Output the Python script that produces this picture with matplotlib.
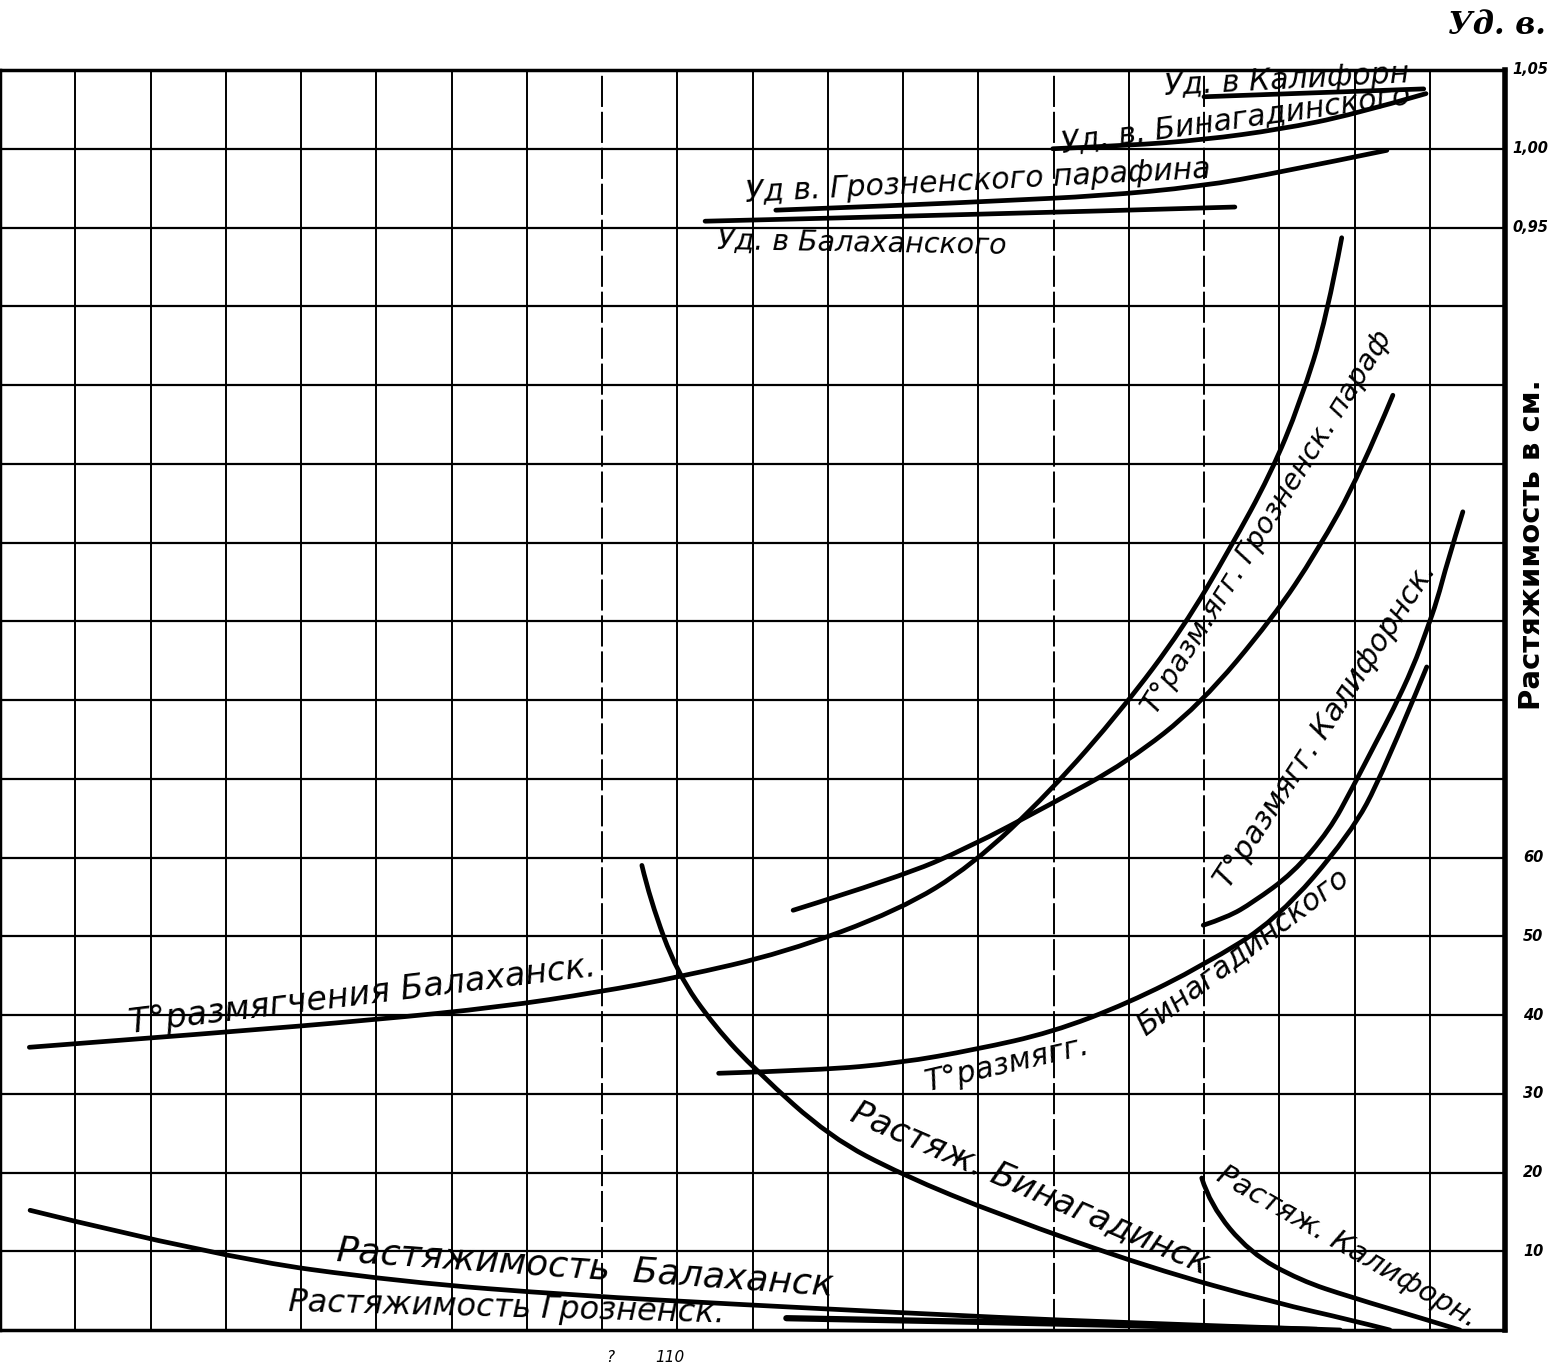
import matplotlib
matplotlib.use("Agg")
import matplotlib.pyplot as plt
from matplotlib.path import Path
from matplotlib.patches import PathPatch

# grid: 20 columns (x units), 16 rows of 10 cm each
n_cols = 20
n_rows = 16

# --- stretch (Растяжимость), cm ---
str_balakh_x = [0.40, 2.90, 5.34, 7.63, 9.91, 11.96, 14.62, 17.81]
str_balakh_y = [15.2, 9.3, 6.1, 4.4, 3.2, 2.2, 1.0, 0.0]

str_grozn_x = [10.45, 13.3, 16.0, 17.5]
str_grozn_y = [1.5, 1.0, 0.4, 0.0]

str_binag_x = [8.53, 8.64, 9.00, 9.50, 10.06, 11.03, 11.99, 13.29, 15.28, 16.97, 17.94, 18.47]
str_binag_y = [59.0, 54.6, 45.3, 38.5, 32.8, 24.5, 19.7, 14.6, 7.9, 3.4, 1.3, 0.0]

str_calif_x = [15.97, 16.08, 16.61, 17.28, 17.94, 18.96, 19.40]
str_calif_y = [19.3, 15.9, 9.8, 6.3, 4.2, 1.3, 0.0]

# --- softening temperature (T° размягчения) ---
t_balakh_x = [0.39, 2.99, 4.98, 6.64, 7.95, 9.02, 10.42, 11.95, 12.92, 13.95,
              14.92, 15.72, 16.35, 16.88, 17.28, 17.63, 17.83]
t_balakh_y = [35.9, 37.8, 39.4, 41.0, 42.9, 44.8, 47.9, 53.3, 59.0, 68.3,
              78.9, 89.1, 99.3, 108.6, 117.8, 128.5, 138.7]

t_grozn_x = [10.54, 11.95, 12.86, 13.95, 14.98, 15.95, 16.92, 17.50, 18.07, 18.51]
t_grozn_y = [53.3, 57.5, 61.2, 66.7, 72.1, 79.4, 90.5, 98.8, 108.6, 118.7]

t_calif_x = [15.99, 16.31, 16.65, 17.18, 17.67, 17.97, 18.30, 18.51, 18.78, 18.96,
             19.10, 19.23, 19.44]
t_calif_y = [51.4, 52.4, 54.3, 58.0, 63.5, 68.8, 74.9, 78.7, 84.2, 88.9,
             92.7, 97.4, 103.9]

t_binag_x = [9.55, 10.90, 11.95, 12.96, 13.98, 14.99, 15.99, 16.97, 17.94, 18.38, 18.96]
t_binag_y = [32.6, 33.0, 33.9, 35.6, 37.8, 41.5, 46.3, 52.1, 62.9, 70.7, 84.2]

# --- specific gravity (Уд. в.) ---
sg_calif_x = [16.0, 18.92]
sg_calif_v = [1.033, 1.038]

sg_binag_x = [13.99, 14.98, 16.0, 17.01, 17.97, 18.95]
sg_binag_v = [1.000, 1.002, 1.0057, 1.0123, 1.0215, 1.035]

sg_grozn_x = [10.31, 11.96, 13.29, 14.62, 15.95, 17.01, 18.43]
sg_grozn_v = [0.961, 0.964, 0.967, 0.970, 0.976, 0.985, 0.999]

sg_balakh_x = [9.37, 12.89, 16.41]
sg_balakh_v = [0.954, 0.958, 0.963]

right_ticks_cm = [10, 20, 30, 40, 50, 60]
right_ticks_sg = [0.95, 1.00, 1.05]


def sg_to_y(v):
    return 160 - (1.05 - v) * 200


def smooth(ax, xs, ys, lw):
    # quadratic bezier through the read points' midpoints -> hand-drawn look
    pts = list(zip(xs, ys))
    if len(pts) < 3:
        verts, codes = pts, [Path.MOVETO, Path.LINETO]
    else:
        verts, codes = [pts[0]], [Path.MOVETO]
        for i in range(1, len(pts) - 1):
            if i == len(pts) - 2:
                end = pts[-1]
            else:
                end = ((pts[i][0] + pts[i + 1][0]) / 2, (pts[i][1] + pts[i + 1][1]) / 2)
            verts += [pts[i], end]
            codes += [Path.CURVE3, Path.CURVE3]
    ax.add_patch(PathPatch(Path(verts, codes), fill=False, edgecolor="black",
                           lw=lw, capstyle="round", joinstyle="round", zorder=3))


fig = plt.figure(figsize=(15.52, 13.68), dpi=100)
ax = fig.add_axes([0.0, 38 / 1368, 1505 / 1552, 1260 / 1368])
ax.set_xlim(0, n_cols)
ax.set_ylim(0, n_rows * 10)
ax.set_xticks([])
ax.set_yticks([])
for side in ["left", "bottom", "top"]:
    ax.spines[side].set_linewidth(2.5)
ax.spines["right"].set_linewidth(4)

dashed_cols = [8, 14, 16]
for i in range(1, n_cols):
    ls = (0, (16, 2.5)) if i in dashed_cols else "-"
    ax.axvline(i, color="black", lw=1.4, ls=ls, zorder=1)
for j in range(1, n_rows):
    ax.axhline(j * 10, color="black", lw=1.6, zorder=1)

lw = 3.4
for xs, ys in [(str_balakh_x, str_balakh_y), (str_binag_x, str_binag_y),
               (str_calif_x, str_calif_y), (t_balakh_x, t_balakh_y),
               (t_grozn_x, t_grozn_y), (t_calif_x, t_calif_y), (t_binag_x, t_binag_y)]:
    smooth(ax, xs, ys, lw)
smooth(ax, str_grozn_x, str_grozn_y, 4.5)

for xs, vs in [(sg_calif_x, sg_calif_v), (sg_binag_x, sg_binag_v),
               (sg_grozn_x, sg_grozn_v), (sg_balakh_x, sg_balakh_v)]:
    smooth(ax, xs, [sg_to_y(v) for v in vs], lw)


def at(px, py):
    # picture pixel position -> data position (for label placement)
    return px / 75.25, (1330 - py) / 7.875


hand = dict(family="DejaVu Sans", style="italic", color="black",
            ha="center", va="center", rotation_mode="anchor", zorder=4)

labels = [
    ("Уд. в Калифорн", (1287, 80), 3, 21.5),
    ("Уд. в. Бинагадинского", (1236, 119), 8, 21.5),
    ("Уд в. Грозненского парафина", (978, 181), 3, 21.5),
    ("Уд. в Балаханского", (862, 243), -1, 20.5),
    ("T°размягчения Балаханск.", (362, 995), 7, 24),
    ("T°разм.ягг. Грозненск. параф", (1267, 522), 58, 20.5),
    ("T°размягг. Калифорнск.", (1326, 725), 57, 21.5),
    ("T°размягг.", (1007, 1064), 13, 21.5),
    ("Бинагадинского", (1243, 952), 37, 21.5),
    ("Растяж. Бинагадинск", (1030, 1188), -23.5, 24.5),
    ("Растяж. Калифорн.", (1347, 1247), -30, 21),
    ("Растяжимость  Балаханск", (585, 1268), -4, 26),
    ("Растяжимость Грозненск.", (507, 1308), -1.5, 23),
]
for text, (px, py), rot, fs in labels:
    x, y = at(px, py)
    ax.text(x, y, text, rotation=rot, fontsize=fs, **hand)

# right-hand scale labels
tick_kw = dict(transform=ax.get_yaxis_transform(), family="DejaVu Sans",
               style="italic", weight="bold", fontsize=10.5, va="center",
               ha="left", clip_on=False)
for v in right_ticks_cm:
    ax.text(1.012, v, str(v), **tick_kw)
for v in right_ticks_sg:
    ax.text(1.005, sg_to_y(v), f"{v:.2f}".replace(".", ","), **tick_kw)

fig.text(1497 / 1552, 1 - 25 / 1368, "Уд. в.", family="DejaVu Serif",
         weight="bold", style="italic", fontsize=22, ha="center", va="center")
fig.text(1532 / 1552, 1 - 545 / 1368, "Растяжимость в см.", family="DejaVu Sans",
         weight="bold", fontsize=21, rotation=90, ha="center", va="center")
fig.text(610 / 1552, 1 - 1358 / 1368, "?", style="italic", fontsize=11,
         ha="center", va="center")
fig.text(670 / 1552, 1 - 1358 / 1368, "110", style="italic", fontsize=11,
         ha="center", va="center")

fig.savefig("out.png", dpi=100)
